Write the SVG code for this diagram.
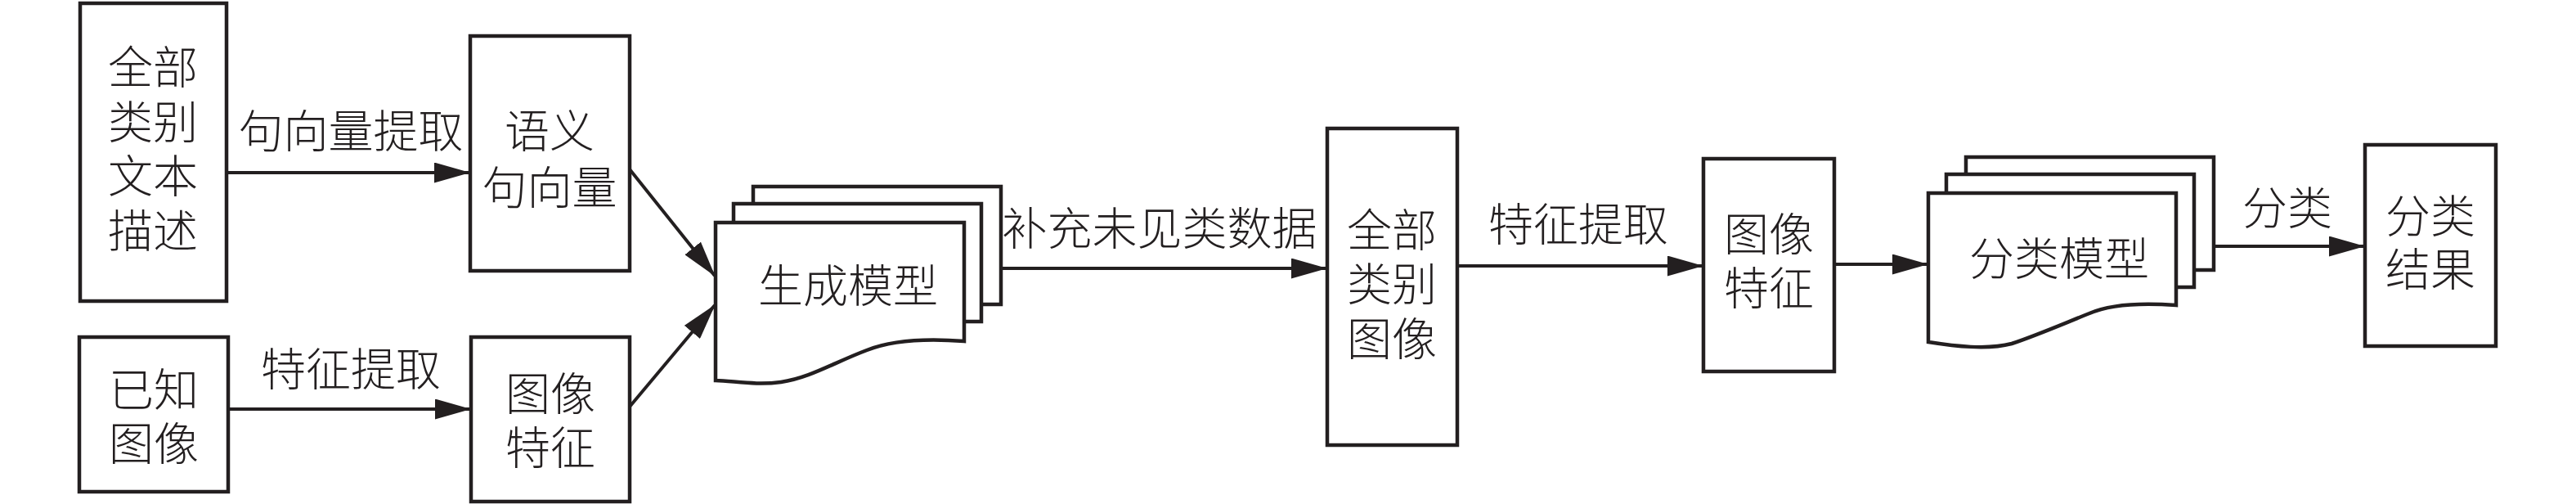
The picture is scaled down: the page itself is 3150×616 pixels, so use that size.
<svg xmlns="http://www.w3.org/2000/svg" width="3150" height="616" viewBox="0 0 3150 616">
<defs>
<style>
.box{fill:#fff;stroke:#231f20;stroke-width:4.5}
.sheet{fill:#fff;stroke:#231f20;stroke-width:4.5;stroke-linejoin:miter}
.edge{fill:none;stroke:#231f20;stroke-width:4}
text{font-family:"Liberation Serif","Noto Sans CJK SC",serif;font-size:55px;font-weight:300;fill:#231f20;text-anchor:middle;dominant-baseline:central}
</style>
<marker id="ah" markerUnits="userSpaceOnUse" markerWidth="44" markerHeight="25" viewBox="0 0 44 25" refX="43" refY="12.5" orient="auto">
<path d="M0,0 L44,12.5 L0,25 Z" fill="#231f20"/>
</marker>
</defs>
<rect width="3150" height="616" fill="#fff"/>

<g id="connectors">
<line class="edge" x1="277" y1="211" x2="574" y2="211" marker-end="url(#ah)"/>
<line class="edge" x1="279" y1="500" x2="575" y2="500" marker-end="url(#ah)"/>
<line class="edge" x1="770" y1="207" x2="874" y2="337" marker-end="url(#ah)"/>
<line class="edge" x1="770" y1="497" x2="874" y2="373" marker-end="url(#ah)"/>
<line class="edge" x1="1224" y1="328" x2="1622" y2="328" marker-end="url(#ah)"/>
<line class="edge" x1="1782" y1="325" x2="2082" y2="325" marker-end="url(#ah)"/>
<line class="edge" x1="2243" y1="323" x2="2357" y2="323" marker-end="url(#ah)"/>
<line class="edge" x1="2707" y1="301" x2="2891" y2="301" marker-end="url(#ah)"/>
<text x="429" y="161">句向量提取</text>
<text x="429" y="452">特征提取</text>
<text x="1418" y="280">补充未见类数据</text>
<text x="1930" y="275">特征提取</text>
<text x="2797" y="255">分类</text>
</g>

<g id="node-text-desc">
<rect class="box" x="98" y="4" width="179" height="364"/>
<text x="187" y="83">全部</text>
<text x="187" y="150">类别</text>
<text x="187" y="216">文本</text>
<text x="187" y="283">描述</text>
</g>

<g id="node-known-image">
<rect class="box" x="97" y="412" width="182" height="189"/>
<text x="188" y="477">已知</text>
<text x="188" y="543">图像</text>
</g>

<g id="node-semantic-vector">
<rect class="box" x="575" y="44" width="195" height="287"/>
<text x="672" y="161">语义</text>
<text x="672" y="230">句向量</text>
</g>

<g id="node-image-feature-1">
<rect class="box" x="576" y="412" width="194" height="201"/>
<text x="673" y="482">图像</text>
<text x="673" y="548">特征</text>
</g>

<g id="node-generative-model">
<rect class="sheet" x="921" y="228" width="303" height="144"/>
<rect class="sheet" x="897" y="249" width="303" height="144"/>
<path class="sheet" d="M875,272 L1179,272 L1179,417 C1140,414 1095,414 1060,428 C1020,443 990,462 955,467 C925,471 900,466 875,465 Z"/>
<text x="1037" y="350">生成模型</text>
</g>

<g id="node-all-images">
<rect class="box" x="1623" y="157" width="159" height="387"/>
<text x="1702" y="282">全部</text>
<text x="1702" y="348">类别</text>
<text x="1702" y="415">图像</text>
</g>

<g id="node-image-feature-2">
<rect class="box" x="2083" y="194" width="160" height="260"/>
<text x="2163" y="287">图像</text>
<text x="2163" y="353">特征</text>
</g>

<g id="node-classifier">
<rect class="sheet" x="2404" y="192" width="303" height="138"/>
<rect class="sheet" x="2380" y="213" width="303" height="138"/>
<path class="sheet" d="M2358,236 L2661,236 L2661,373 C2620,370 2580,372 2555,383 C2520,397 2490,410 2460,420 C2430,428 2390,423 2358,418 Z"/>
<text x="2518" y="317">分类模型</text>
</g>

<g id="node-result">
<rect class="box" x="2892" y="177" width="160" height="246"/>
<text x="2972" y="265">分类</text>
<text x="2972" y="330">结果</text>
</g>
</svg>
